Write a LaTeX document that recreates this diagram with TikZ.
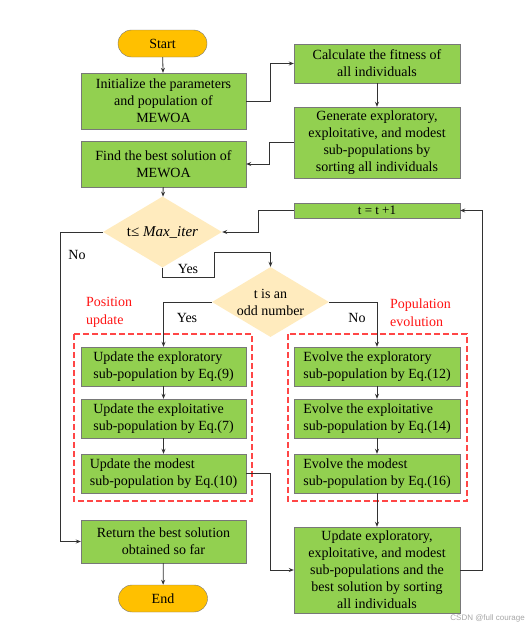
\documentclass[tikz,border=0pt]{standalone}
\usepackage{fontspec}
\setmainfont{Liberation Serif}
\newfontfamily\markfont{Liberation Sans}
\usepackage{tikz}
\usetikzlibrary{arrows.meta, positioning, shapes.geometric, calc}
\definecolor{boxgreen}{RGB}{146,208,80}
\definecolor{termorange}{RGB}{255,192,0}
\definecolor{decisionfill}{RGB}{255,235,190}
\definecolor{edgegray}{RGB}{120,120,120}
\definecolor{groupred}{RGB}{255,70,70}
\definecolor{labelred}{RGB}{255,20,20}
\definecolor{linedark}{RGB}{50,50,50}

\begin{document}
\begin{tikzpicture}[
    x=1pt, y=-1pt,
    every node/.style={font=\fontsize{14}{17}\selectfont},
    terminal/.style={draw=edgegray, fill=termorange, rounded corners=13.5pt,
      minimum width=89pt, minimum height=27pt, inner sep=0pt},
    process/.style={draw=edgegray, fill=boxgreen, minimum width=165pt,
      align=center, inner sep=1pt},
    stepleft/.style={draw=edgegray, fill=boxgreen, minimum width=165pt,
      minimum height=39pt, align=left, inner sep=0pt},
    decision/.style={diamond, aspect=1.65, fill=decisionfill, inner sep=0pt,
      align=center},
    arrow/.style={-{Stealth[length=5pt, width=4pt]}, linedark, line width=0.8pt},
    label/.style={inner sep=0pt},
    grouplabel/.style={inner sep=0pt, text=labelred, align=left, anchor=west},
    groupbox/.style={draw=groupred, line width=1.2pt, dash pattern=on 6pt off 3pt},
  ]
  \useasboundingbox (0,0) rectangle (526,630);

  % Start and initial steps
  \node[terminal] (start) at (162.5,43.5) {Start};
  \node[process, minimum height=56pt] (init) at (163.5,101) {Initialize the parameters\\and population of\\MEWOA};
  \node[process, minimum width=166pt, minimum height=39pt] (calc) at (377,63.5) {Calculate the fitness of\\all individuals};
  \node[process, minimum width=166pt, minimum height=71pt] (gen) at (377,142.5) {Generate exploratory,\\exploitative, and modest\\sub-populations by\\sorting all individuals};
  \node[process, minimum height=46pt] (find) at (163.5,164) {Find the best solution of\\MEWOA};

  % Loop condition
  \node[decision, minimum width=119pt, minimum height=71pt,
    font=\fontsize{15}{17}\selectfont] (cond) at (162.5,232) {t≤ \textit{Max\_iter}};
  \node[process, minimum width=166pt, minimum height=15pt, inner sep=0pt,
    font=\fontsize{13}{13}\selectfont] (tinc) at (377,210.5) {t = t +1};
  \node[decision, minimum width=117pt, minimum height=70pt] (odd) at (270.5,302) {t is an\\odd number};

  % Position update branch
  \node[stepleft] (u1) at (163.5,366.5) {Update the exploratory\\sub-population by Eq.(9)};
  \node[stepleft] (u2) at (163.5,418.5) {Update the exploitative\\sub-population by Eq.(7)};
  \node[stepleft] (u3) at (163.5,473.5) {Update the modest\\sub-population by Eq.(10)};

  % Population evolution branch
  \node[stepleft, minimum width=166pt] (e1) at (377,366.5) {Evolve the exploratory\\sub-population by Eq.(12)};
  \node[stepleft, minimum width=166pt] (e2) at (377,418.5) {Evolve the exploitative\\sub-population by Eq.(14)};
  \node[stepleft, minimum width=166pt] (e3) at (377,473.5) {Evolve the modest\\sub-population by Eq.(16)};

  % Closing steps
  \node[process, minimum width=166pt, minimum height=86pt] (fin) at (377,570) {Update exploratory,\\exploitative, and modest\\sub-populations and the\\best solution by sorting\\all individuals};
  \node[process, minimum height=43pt] (ret) at (163.5,541.5) {Return the best solution\\obtained so far};
  \node[terminal] (stop) at (163,598.5) {End};

  % Dashed groups
  \draw[groupbox] (74,334) rectangle (252,501);
  \draw[groupbox] (288,334) rectangle (467,501);
  \node[grouplabel, font=\fontsize{14}{18}\selectfont] (poslab) at (86,312.5) {Position\\update};
  \node[grouplabel, font=\fontsize{14}{18}\selectfont] (poplab) at (390,312.5) {Population\\evolution};

  % Turning points
  \coordinate (noturn) at (60,232);
  \coordinate (yes1) at (214,277);
  \coordinate (yes2) at (214,252);

  % Edges
  \draw[arrow] (start) -- (init);
  \draw[arrow] (init.east) -- ++(24,0) |- (calc.west);
  \draw[arrow] (calc) -- (gen);
  \draw[arrow] (gen.west) -- ++(-24,0) |- (find.east);
  \draw[arrow] (find) -- (cond);
  \draw[arrow] (cond.west) -- (noturn) |- (ret.west);
  \draw[arrow] (cond.south) |- (yes1) -- (yes2) -| (odd.north);
  \draw[arrow] (odd.west) -| (u1.north);
  \draw[arrow] (odd.east) -| (e1.north);
  \draw[arrow] (u1) -- (u2);
  \draw[arrow] (u2) -- (u3);
  \draw[arrow] (e1) -- (e2);
  \draw[arrow] (e2) -- (e3);
  \draw[arrow] (u3.east) -- ++(24,0) |- (fin.west);
  \draw[arrow] (e3) -- (fin);
  \draw[arrow] (fin.east) -- ++(22,0) |- (tinc.east);
  \draw[arrow] (tinc.west) -- ++(-35,0) |- (cond.east);
  \draw[arrow] (ret) -- (stop);

  % Labels
  \node[label] (nolab1) at (77,255) {No};
  \node[label] (yeslab1) at (188,269) {Yes};
  \node[label] (yeslab2) at (187,318) {Yes};
  \node[label] (nolab2) at (357,318) {No};
  \node[label, anchor=east, text=gray!70, font=\markfont\fontsize{8}{9}\selectfont] (mark) at (525,618) {CSDN @full courage};
\end{tikzpicture}
\end{document}
